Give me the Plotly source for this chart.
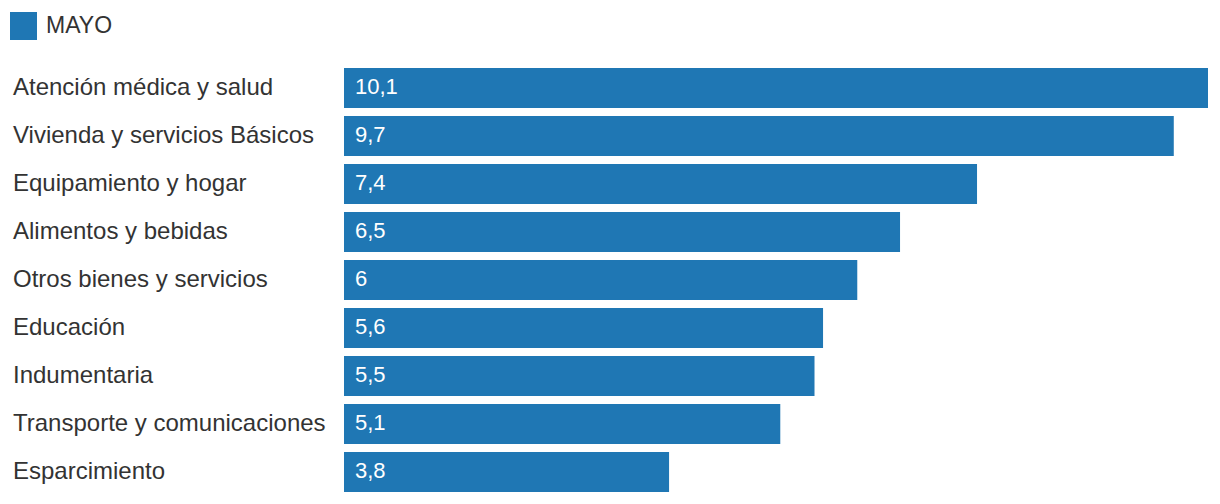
import plotly.graph_objects as go

categories = [
    "Atención médica y salud",
    "Vivienda y servicios Básicos",
    "Equipamiento y hogar",
    "Alimentos y bebidas",
    "Otros bienes y servicios",
    "Educación",
    "Indumentaria",
    "Transporte y comunicaciones",
    "Esparcimiento",
]
values = [10.1, 9.7, 7.4, 6.5, 6.0, 5.6, 5.5, 5.1, 3.8]
series_name = "MAYO"
value_labels = ["10,1", "9,7", "7,4", "6,5", "6", "5,6", "5,5", "5,1", "3,8"]

BAR_COLOR = "#1f77b4"
FONT = "Liberation Sans"
# page has an 8px body margin, so the figure is sized to fill the rest
OFF = 8
W, H = 1220 - OFF, 504 - OFF
ML, MR, MT, MB = 344 - OFF, 12, 64 - OFF, 8
PW = W - ML - MR
PH = H - MT - MB


def px_x(p):
    return (p - OFF - ML) / PW


def px_y(p):
    return (H - MB - (p - OFF)) / PH


fig = go.Figure()
fig.add_trace(go.Bar(
    x=values, y=categories, orientation="h", name=series_name,
    marker=dict(color=BAR_COLOR, line=dict(width=0)),
    showlegend=False, hoverinfo="x+y",
))

annotations = []
for c, lab in zip(categories, value_labels):
    annotations.append(dict(
        x=0, y=c, xref="x", yref="y", text=lab, showarrow=False,
        xanchor="left", yanchor="middle", xshift=9, yshift=2,
        font=dict(family=FONT, size=22, color="white"),
    ))
    annotations.append(dict(
        x=px_x(11), y=c, xref="paper", yref="y", text=c, showarrow=False,
        xanchor="left", yanchor="middle", yshift=2,
        font=dict(family=FONT, size=24, color="#333333"),
    ))

annotations.append(dict(
    x=px_x(44), y=px_y(25), xref="paper", yref="paper", text=series_name,
    showarrow=False, xanchor="left", yanchor="middle",
    font=dict(family=FONT, size=23, color="#333333"),
))

fig.update_layout(
    width=W, height=H,
    margin=dict(l=ML, r=MR, t=MT, b=MB, pad=0),
    paper_bgcolor="white", plot_bgcolor="white",
    bargap=1 / 6,
    xaxis=dict(range=[0, 10.1], visible=False, fixedrange=True),
    yaxis=dict(autorange="reversed", showticklabels=False, showgrid=False,
               zeroline=False, showline=False, ticks="", fixedrange=True),
    annotations=annotations,
    shapes=[dict(type="rect", xref="paper", yref="paper",
                 x0=px_x(10), x1=px_x(37), y0=px_y(40), y1=px_y(12),
                 fillcolor=BAR_COLOR, line=dict(width=0))],
    font=dict(family=FONT),
)

fig.write_html("out.html")
